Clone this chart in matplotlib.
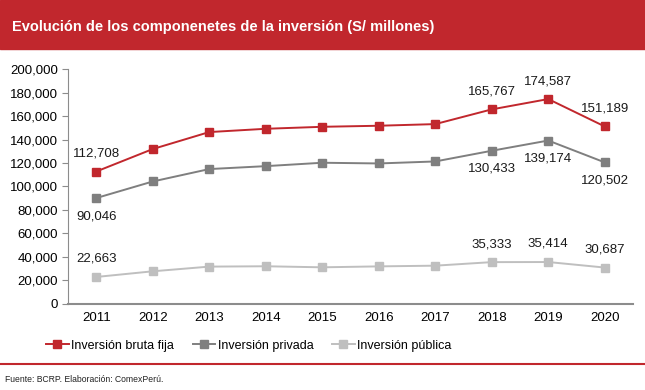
import matplotlib.pyplot as plt
from matplotlib.patches import Rectangle
from matplotlib.lines import Line2D
from matplotlib.ticker import FuncFormatter

years = ["2011", "2012", "2013", "2014", "2015", "2016", "2017", "2018", "2019", "2020"]
bruta_fija = [112708, 131900, 146400, 149200, 150900, 151800, 153200, 165767, 174587, 151189]
privada = [90046, 104200, 114800, 117300, 120200, 119600, 121300, 130433, 139174, 120502]
publica = [22663, 27500, 31500, 31800, 30900, 31700, 32300, 35333, 35414, 30687]

# which points carry a label (index list per series)
lab_bruta = [0, 7, 8, 9]
lab_privada = [0, 7, 8, 9]
lab_publica = [0, 7, 8, 9]

RED = "#C1272D"
GRAY = "#7F7F7F"
LIGHT = "#BFBFBF"
plt.rcParams["font.family"] = ["Liberation Sans", "DejaVu Sans"]

fig = plt.figure(figsize=(6.45, 3.9), dpi=100)
fig.add_artist(Rectangle((0, 1 - 49 / 390), 1, 49 / 390, transform=fig.transFigure,
                         color=RED, zorder=0))
fig.text(12 / 645, 1 - 27 / 390, "Evolución de los componenetes de la inversión (S/ millones)",
         color="white", fontsize=10.5, fontweight="bold", va="center")
fig.add_artist(Line2D([0, 1], [1 - 364 / 390] * 2, transform=fig.transFigure,
                      color=RED, lw=1.5))
fig.text(5 / 645, 1 - 380 / 390, "Fuente: BCRP. Elaboración: ComexPerú.",
         fontsize=6.2, va="center", color="#222222")

ax = fig.add_axes([68 / 645, 1 - 303.5 / 390, 565 / 645, 234.2 / 390])
x = range(len(years))
ax.plot(x, bruta_fija, color=RED, marker="s", ms=5.5, lw=1.4, label="Inversión bruta fija")
ax.plot(x, privada, color=GRAY, marker="s", ms=5.5, lw=1.4, label="Inversión privada")
ax.plot(x, publica, color=LIGHT, marker="s", ms=5.5, lw=1.4, label="Inversión pública")

for vals, idx, off in [(bruta_fija, lab_bruta, 13), (privada, lab_privada, -13),
                       (publica, lab_publica, 13)]:
    for i in idx:
        ax.annotate(f"{vals[i]:,}", (i, vals[i]), xytext=(0, off), textcoords="offset points",
                    ha="center", va="center", fontsize=9.5, color="#1a1a1a")

ax.set_xlim(-0.5, len(years) - 0.5)
ax.set_ylim(0, 200000)
ax.set_yticks(range(0, 200001, 20000))
ax.yaxis.set_major_formatter(FuncFormatter(lambda v, p: f"{int(v):,}"))
ax.set_xticks(list(x))
ax.set_xticklabels(years)
for s in ["top", "right"]:
    ax.spines[s].set_visible(False)
ax.spines["left"].set_color("#8c8c8c")
ax.spines["bottom"].set_color("#8c8c8c")
ax.spines["bottom"].set_linewidth(1.5)
ax.tick_params(axis="y", length=4, color="#8c8c8c", labelsize=9.5, pad=3)
ax.tick_params(axis="x", length=0, labelsize=9.5, pad=6)

ax.legend(loc="center left", bbox_to_anchor=((46 - 68) / 565, -0.18), ncol=3, frameon=False,
          fontsize=9, handlelength=1.8, columnspacing=1.5, handletextpad=0.2,
          borderaxespad=0, borderpad=0)

fig.savefig("out.png", dpi=100)
